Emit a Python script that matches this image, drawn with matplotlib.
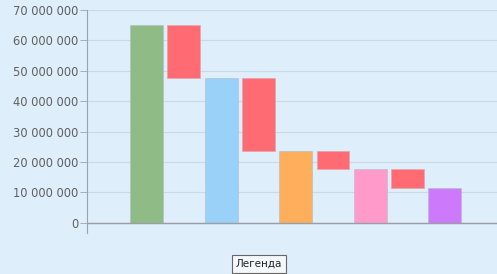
import numpy as np
import matplotlib as mpl
mpl.rcParams['font.family'] = 'DejaVu Sans'
import matplotlib.pyplot as plt
from matplotlib.ticker import FuncFormatter

# data (values in units)
totals = [65000000, 47500000, 23500000, 17600000, 11600000]
total_colors = ['#8fbb87', '#9ad1f8', '#ffae5c', '#ff9acb', '#cd79fb']
drop_color = '#ff6b73'
yticks = [0, 10000000, 20000000, 30000000, 40000000, 50000000, 60000000, 70000000]
legend_text = 'Легенда'

bg = '#deeefb'
fig = plt.figure(figsize=(4.97, 2.74), dpi=100, facecolor=bg)
ax = fig.add_axes([0.175, 0.15, 0.825, 0.8135])
ax.set_facecolor(bg)

w = 0.88
for i, v in enumerate(totals):
    ax.bar(2*i, v, width=w, color=total_colors[i], edgecolor='#b0bcc8', linewidth=0.4, zorder=3)
    if i < len(totals) - 1:
        nxt = totals[i+1]
        ax.bar(2*i + 1, v - nxt, bottom=nxt, width=w, color=drop_color,
               edgecolor='#e5a0a5', linewidth=0.4, zorder=3)

ax.set_xlim(-1.6, 9.4)
ax.set_ylim(-3300000, 70000000)
ax.set_yticks(yticks)
ax.yaxis.set_major_formatter(FuncFormatter(lambda v, p: '{:,}'.format(int(v)).replace(',', ' ')))
ax.tick_params(axis='y', length=5, width=0.6, color='#9aa4ae', labelsize=8.3,
               labelcolor='#606060', pad=1)
ax.set_xticks([])
ax.grid(axis='y', color='#c9d9e6', linewidth=0.8, zorder=0)
ax.axhline(0, color='#9a9fa5', linewidth=1.0, zorder=4)
for s in ['top', 'right', 'bottom']:
    ax.spines[s].set_visible(False)
ax.spines['left'].set_color('#9aa4ae')
ax.spines['left'].set_linewidth(0.8)

fig.text(0.521, 0.036, legend_text, ha='center', va='center', fontsize=7.5, color='#222222',
         bbox=dict(boxstyle='square,pad=0.35', facecolor='#f4f8fb', edgecolor='#666666', linewidth=0.8))

plt.savefig('out.png', dpi=100, facecolor=bg)
